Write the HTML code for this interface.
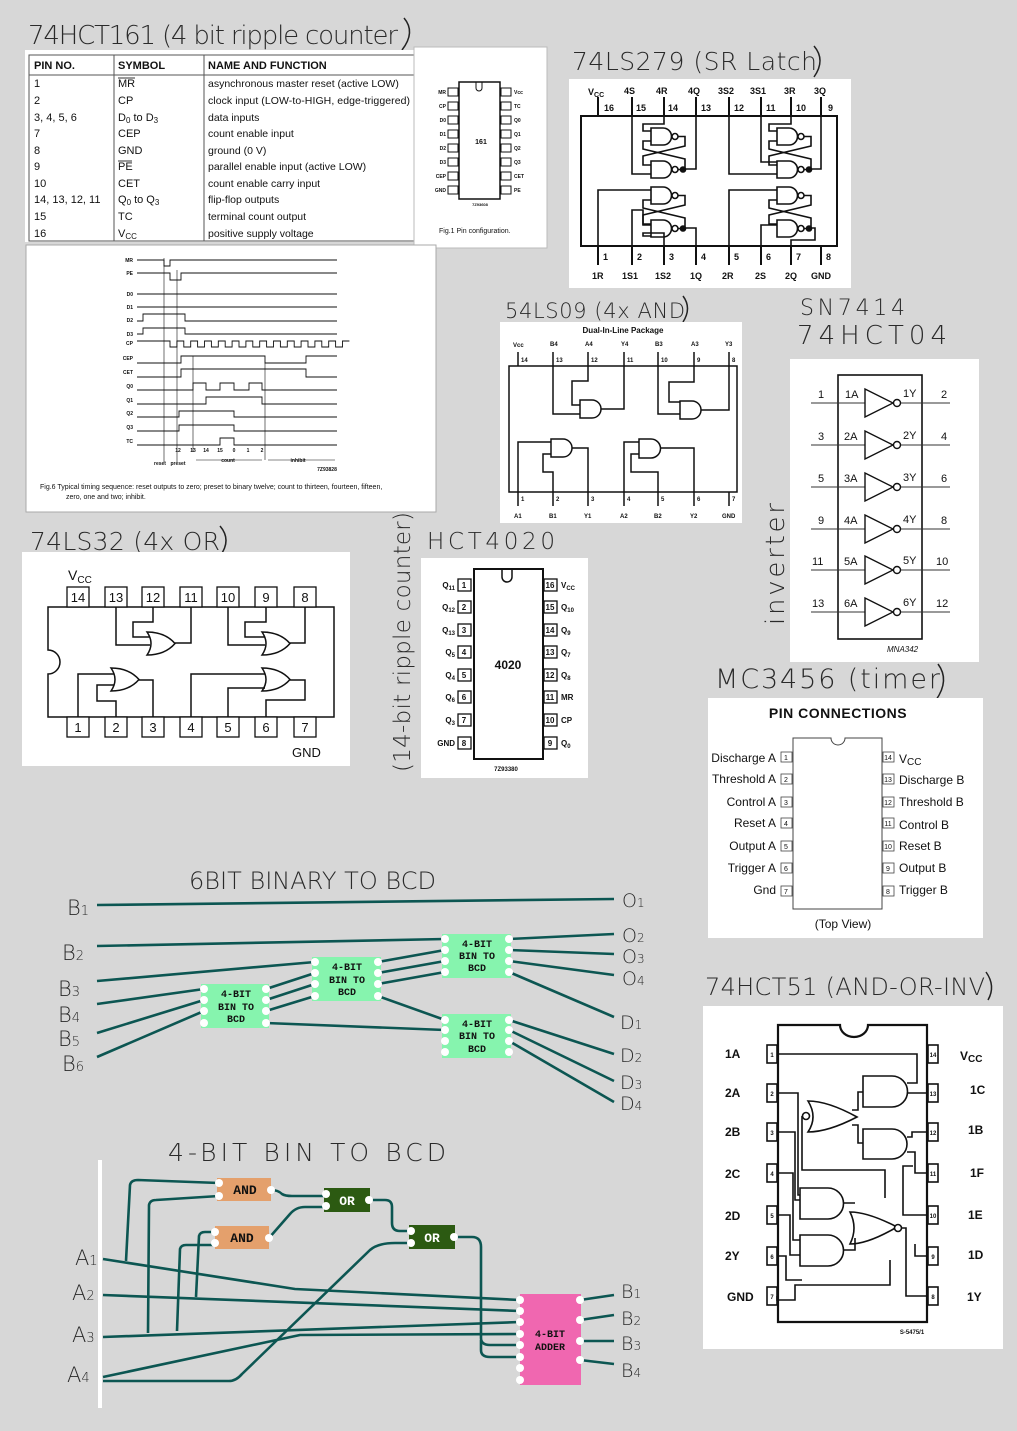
<!DOCTYPE html>
<html><head><meta charset="utf-8"><style>
html,body{margin:0;padding:0;background:#d7d7d7;}
svg{display:block;}
.hw{font-family:"DejaVu Sans","Liberation Sans",sans-serif;font-weight:200;fill:#2a2a2a;}
.t{font-family:"Liberation Sans",Arial,sans-serif;fill:#111;}
.m{font-family:"Liberation Mono","DejaVu Sans Mono",monospace;font-weight:bold;}
.ln{stroke:#111;fill:none;stroke-width:1.5;}
.w{stroke:#0c5652;fill:none;stroke-width:2.6;stroke-linejoin:round;}
.pin{fill:#fff;}
</style></head><body>
<svg width="1017" height="1431" viewBox="0 0 1017 1431" xmlns="http://www.w3.org/2000/svg">
<rect width="1017" height="1431" fill="#d7d7d7"/>

<!-- ===== Handwritten titles ===== -->
<text class="hw" x="28" y="44" font-size="26" textLength="370">74HCT161 (4 bit ripple counter</text>
<path d="M404,18 Q416,32 402,50" stroke="#222" fill="none" stroke-width="1.5"/>
<text class="hw" x="572" y="70" font-size="25" textLength="245">74LS279 (SR Latch</text>
<path d="M814,46 Q826,60 814,77" stroke="#222" fill="none" stroke-width="1.5"/>
<text class="hw" x="505" y="318" font-size="21" textLength="180">54LS09 (4x AND</text>
<path d="M683,296 Q692,308 683,322" stroke="#222" fill="none" stroke-width="1.5"/>
<text class="hw" x="800" y="315" font-size="22" textLength="105">SN7414</text>
<text class="hw" x="797" y="344" font-size="26" textLength="150">74HCT04</text>
<text class="hw" x="30" y="550" font-size="25" textLength="190">74LS32 (4x OR</text>
<path d="M220,526 Q232,540 220,556" stroke="#222" fill="none" stroke-width="1.5"/>
<text class="hw" x="427" y="549" font-size="23" textLength="128">HCT4020</text>
<text class="hw" x="0" y="0" font-size="23" textLength="260" transform="translate(410,772) rotate(-90)">(14-bit ripple counter)</text>
<text class="hw" x="0" y="0" font-size="26" textLength="122" transform="translate(784,625) rotate(-90)">inverter</text>
<text class="hw" x="715" y="688" font-size="27" textLength="225">MC3456 (timer</text>
<path d="M938,664 Q950,680 936,700" stroke="#222" fill="none" stroke-width="1.5"/>
<text class="hw" x="705" y="995" font-size="24" textLength="280">74HCT51 (AND-OR-INV</text>
<path d="M986,972 Q996,986 988,1000" stroke="#222" fill="none" stroke-width="1.5"/>

<!-- ===== 74HCT161 table ===== -->
<rect x="25" y="50" width="390" height="192" fill="#fff"/>
<rect x="29" y="55" width="386" height="186" fill="none" stroke="#555" stroke-width="1"/>
<line x1="29" y1="75" x2="415" y2="75" stroke="#555"/>
<line x1="114" y1="55" x2="114" y2="241" stroke="#555"/>
<line x1="204" y1="55" x2="204" y2="241" stroke="#555"/>
<g class="t" font-size="11">
<text x="34" y="69" font-weight="bold">PIN NO.</text><text x="118" y="69" font-weight="bold">SYMBOL</text><text x="208" y="69" font-weight="bold">NAME AND FUNCTION</text>
<text x="34" y="87">1</text><text x="118" y="87">MR</text><text x="208" y="87" font-size="10.5">asynchronous master reset (active LOW)</text>
<text x="34" y="104">2</text><text x="118" y="104">CP</text><text x="208" y="104" font-size="10.5" textLength="202">clock input (LOW-to-HIGH, edge-triggered)</text>
<text x="34" y="121">3, 4, 5, 6</text><text x="118" y="121">D<tspan font-size="8" dy="2">0</tspan><tspan dy="-2"> to D</tspan><tspan font-size="8" dy="2">3</tspan></text><text x="208" y="121" font-size="10.5">data inputs</text>
<text x="34" y="137">7</text><text x="118" y="137">CEP</text><text x="208" y="137" font-size="10.5">count enable input</text>
<text x="34" y="154">8</text><text x="118" y="154">GND</text><text x="208" y="154" font-size="10.5">ground (0 V)</text>
<text x="34" y="170">9</text><text x="118" y="170">PE</text><text x="208" y="170" font-size="10.5">parallel enable input (active LOW)</text>
<text x="34" y="187">10</text><text x="118" y="187">CET</text><text x="208" y="187" font-size="10.5">count enable carry input</text>
<text x="34" y="203">14, 13, 12, 11</text><text x="118" y="203">Q<tspan font-size="8" dy="2">0</tspan><tspan dy="-2"> to Q</tspan><tspan font-size="8" dy="2">3</tspan></text><text x="208" y="203" font-size="10.5">flip-flop outputs</text>
<text x="34" y="220">15</text><text x="118" y="220">TC</text><text x="208" y="220" font-size="10.5">terminal count output</text>
<text x="34" y="237">16</text><text x="118" y="237">V<tspan font-size="8" dy="2">CC</tspan></text><text x="208" y="237" font-size="10.5">positive supply voltage</text>
</g>
<line x1="118" y1="78" x2="135" y2="78" stroke="#333"/><line x1="118" y1="161" x2="132" y2="161" stroke="#333"/>

<!-- pin config 161 -->
<rect x="414" y="47" width="133" height="201" fill="#fff" stroke="#bbb"/>
<rect x="459" y="82" width="41" height="117" fill="#fff" stroke="#111" stroke-width="1.5"/>
<path d="M476,82 v6 a3,3 0 0 0 6,0 v-6" fill="none" stroke="#111"/>
<g stroke="#111" fill="#fff" stroke-width="1">
<rect x="448" y="88" width="10" height="8"/><rect x="448" y="102" width="10" height="8"/><rect x="448" y="116" width="10" height="8"/><rect x="448" y="130" width="10" height="8"/><rect x="448" y="144" width="10" height="8"/><rect x="448" y="158" width="10" height="8"/><rect x="448" y="172" width="10" height="8"/><rect x="448" y="186" width="10" height="8"/>
<rect x="501" y="88" width="10" height="8"/><rect x="501" y="102" width="10" height="8"/><rect x="501" y="116" width="10" height="8"/><rect x="501" y="130" width="10" height="8"/><rect x="501" y="144" width="10" height="8"/><rect x="501" y="158" width="10" height="8"/><rect x="501" y="172" width="10" height="8"/><rect x="501" y="186" width="10" height="8"/>
</g>
<g class="t" font-size="5" font-weight="bold" text-anchor="end">
<text x="446" y="94">MR</text><text x="446" y="108">CP</text><text x="446" y="122">D0</text><text x="446" y="136">D1</text><text x="446" y="150">D2</text><text x="446" y="164">D3</text><text x="446" y="178">CEP</text><text x="446" y="192">GND</text>
</g>
<g class="t" font-size="5" font-weight="bold">
<text x="514" y="94">Vcc</text><text x="514" y="108">TC</text><text x="514" y="122">Q0</text><text x="514" y="136">Q1</text><text x="514" y="150">Q2</text><text x="514" y="164">Q3</text><text x="514" y="178">CET</text><text x="514" y="192">PE</text>
</g>
<text class="t" x="481" y="144" font-size="7" font-weight="bold" text-anchor="middle">161</text>
<text class="t" x="480" y="206" font-size="4" font-weight="bold" text-anchor="middle">7Z93608</text>
<text class="t" x="439" y="233" font-size="7" fill="#444">Fig.1  Pin configuration.</text>

<!-- timing panel -->
<rect x="26" y="245" width="410" height="267" fill="#fff" stroke="#aaa"/>
<g class="t" font-size="5" font-weight="bold" text-anchor="end">
<text x="133" y="262">MR</text><text x="133" y="275">PE</text><text x="133" y="296">D0</text><text x="133" y="309">D1</text><text x="133" y="322">D2</text><text x="133" y="336">D3</text><text x="133" y="345">CP</text><text x="133" y="360">CEP</text><text x="133" y="374">CET</text><text x="133" y="388">Q0</text><text x="133" y="402">Q1</text><text x="133" y="415">Q2</text><text x="133" y="429">Q3</text><text x="133" y="443">TC</text>
</g>
<g fill="none" stroke="#111" stroke-width="0.9">
<path d="M137,260 H164 V266 H170 V260 H337"/>
<path d="M137,273 H170 V280 H181 V273 H337"/>
<path d="M137,294 H337"/><path d="M137,307 H337"/>
<path d="M137,321 H143 V314 H185 V321 H337"/>
<path d="M137,334 H143 V328 H185 V334 H337"/>
<path d="M137,341 H170 v6 h6.9 v-6 h6.9 v6 h6.9 v-6 h6.9 v6 h6.9 v-6 h6.9 v6 h6.9 v-6 h6.9 v6 h6.9 v-6 h6.9 v6 h6.9 v-6 h6.9 v6 h6.9 v-6 h6.9 v6 h6.9 v-6 h6.9 v6 h6.9 v-6 h6.9 v6 h6.9 v-6 h6.9 v6 h6.9 v-6 h6.9 v6 h6.9 v-6 h6.9 v6 h6.9 v-6 h6.9"/>
<path d="M137,363 H181 V356 H265 V363 H306 V356 H337"/>
<path d="M137,377 H181 V369 H306 V377 H337"/>
<path d="M137,390 H193 V383 H206 V390 H220 V383 H234 V390 H249 V383 H262 V390 H337"/>
<path d="M137,404 H206 V397 H262 V404 H337"/>
<path d="M137,417 H179 V411 H234 V417 H337"/>
<path d="M137,431 H179 V425 H234 V431 H337"/>
<path d="M137,445 H220 V438 H234 V445 H337"/>
<path d="M164,258 V462 M177,270 V462 M193,356 V452 M265,363 V460" stroke-width="0.6"/>
<path d="M196,460 H262 M268,460 H335" stroke-width="0.6"/>
</g>
<g class="t" font-size="5" font-weight="bold" text-anchor="middle">
<text x="178" y="452">12</text><text x="193" y="452">13</text><text x="206" y="452">14</text><text x="220" y="452">15</text><text x="234" y="452">0</text><text x="248" y="452">1</text><text x="262" y="452">2</text>
<text x="160" y="465">reset</text><text x="178" y="465">preset</text><text x="228" y="462">count</text><text x="298" y="462">inhibit</text><text x="327" y="471">7Z93828</text>
</g>
<text class="t" x="40" y="489" font-size="7" fill="#333">Fig.6    Typical timing sequence: reset outputs to zero; preset to binary twelve; count to thirteen, fourteen, fifteen,</text>
<text class="t" x="66" y="499" font-size="7" fill="#333">zero, one and two; inhibit.</text>

<!-- ===== 74LS279 ===== -->
<rect x="569" y="79" width="282" height="209" fill="#fff"/>
<rect x="581" y="116" width="256" height="130" fill="none" stroke="#111" stroke-width="2"/>
<g stroke="#111" stroke-width="2">
<line x1="598" y1="97" x2="598" y2="116"/><line x1="632" y1="97" x2="632" y2="116"/><line x1="664" y1="97" x2="664" y2="116"/><line x1="696" y1="97" x2="696" y2="116"/><line x1="729" y1="97" x2="729" y2="116"/><line x1="761" y1="97" x2="761" y2="116"/><line x1="791" y1="97" x2="791" y2="116"/><line x1="821" y1="97" x2="821" y2="116"/>
<line x1="598" y1="246" x2="598" y2="265"/><line x1="632" y1="246" x2="632" y2="265"/><line x1="664" y1="246" x2="664" y2="265"/><line x1="696" y1="246" x2="696" y2="265"/><line x1="729" y1="246" x2="729" y2="265"/><line x1="761" y1="246" x2="761" y2="265"/><line x1="791" y1="246" x2="791" y2="265"/><line x1="821" y1="246" x2="821" y2="265"/>
</g>
<g class="t" font-size="9" font-weight="bold">
<text x="588" y="95">V<tspan font-size="7" dy="2">CC</tspan></text><text x="624" y="94">4S</text><text x="656" y="94">4R</text><text x="688" y="94">4Q</text><text x="718" y="94">3S2</text><text x="750" y="94">3S1</text><text x="784" y="94">3R</text><text x="814" y="94">3Q</text>
<text x="604" y="111">16</text><text x="636" y="111">15</text><text x="668" y="111">14</text><text x="701" y="111">13</text><text x="734" y="111">12</text><text x="766" y="111">11</text><text x="796" y="111">10</text><text x="828" y="111">9</text>
<text x="603" y="260">1</text><text x="637" y="260">2</text><text x="669" y="260">3</text><text x="701" y="260">4</text><text x="734" y="260">5</text><text x="766" y="260">6</text><text x="796" y="260">7</text><text x="826" y="260">8</text>
<text x="592" y="279">1R</text><text x="622" y="279">1S1</text><text x="655" y="279">1S2</text><text x="690" y="279">1Q</text><text x="722" y="279">2R</text><text x="755" y="279">2S</text><text x="785" y="279">2Q</text><text x="811" y="279">GND</text>
</g>
<defs>
<g id="latch" fill="none" stroke="#111" stroke-width="1.6">
<path d="M0,0 H12 A8.5,8.5 0 0 1 12,17 H0 Z" fill="#fff"/>
<path d="M0,33 H12 A8.5,8.5 0 0 1 12,50 H0 Z" fill="#fff"/>
<circle cx="24" cy="8.5" r="3" fill="#fff"/><circle cx="24" cy="41.5" r="3" fill="#fff"/>
<path d="M27,8.5 H34 V18 L-8,28 V37 H0"/>
<path d="M27,41.5 H34 V31 L-8,21 V13 H0"/>
<circle cx="32" cy="41.5" r="2.5" fill="#111"/>
</g>
</defs>
<use href="#latch" x="651" y="128"/>
<use href="#latch" x="777" y="128"/>
<use href="#latch" x="651" y="187"/>
<use href="#latch" x="777" y="187"/>
<g fill="none" stroke="#111" stroke-width="1.6">
<path d="M664,116 V124 H643 V131 H651"/><path d="M632,116 V174 H651"/><path d="M683,169 H696 V116"/>
<path d="M791,116 V124 H769 V131 H777"/><path d="M761,116 V162 H777 M729,116 V174 H777"/><path d="M809,169 H821 V116"/>
<path d="M598,246 V190 H651"/><path d="M632,246 V210 H643 V225 H651 M664,246 V233 H643 V236 H651"/><path d="M683,228 H696 V246"/>
<path d="M729,246 V190 H777"/><path d="M761,246 V225 H777"/><path d="M809,228 H815 V240 H791 V246"/>
</g>

<!-- ===== 54LS09 ===== -->
<rect x="500" y="322" width="242" height="201" fill="#fff"/>
<text class="t" x="623" y="333" font-size="8" font-weight="bold" text-anchor="middle">Dual-In-Line Package</text>
<rect x="509" y="366" width="228" height="126" fill="none" stroke="#111" stroke-width="1.5"/>
<g stroke="#111" stroke-width="1.5">
<line x1="518" y1="352" x2="518" y2="366"/><line x1="553" y1="352" x2="553" y2="366"/><line x1="588" y1="352" x2="588" y2="366"/><line x1="624" y1="352" x2="624" y2="366"/><line x1="658" y1="352" x2="658" y2="366"/><line x1="694" y1="352" x2="694" y2="366"/><line x1="729" y1="352" x2="729" y2="366"/>
<line x1="518" y1="492" x2="518" y2="506"/><line x1="553" y1="492" x2="553" y2="506"/><line x1="588" y1="492" x2="588" y2="506"/><line x1="624" y1="492" x2="624" y2="506"/><line x1="658" y1="492" x2="658" y2="506"/><line x1="694" y1="492" x2="694" y2="506"/><line x1="729" y1="492" x2="729" y2="506"/>
</g>
<g class="t" font-size="6" font-weight="bold">
<text x="513" y="347">Vcc</text><text x="550" y="346">B4</text><text x="585" y="346">A4</text><text x="621" y="346">Y4</text><text x="655" y="346">B3</text><text x="691" y="346">A3</text><text x="725" y="346">Y3</text>
<text x="521" y="362">14</text><text x="556" y="362">13</text><text x="591" y="362">12</text><text x="627" y="362">11</text><text x="661" y="362">10</text><text x="697" y="362">9</text><text x="732" y="362">8</text>
<text x="521" y="501">1</text><text x="556" y="501">2</text><text x="591" y="501">3</text><text x="627" y="501">4</text><text x="661" y="501">5</text><text x="697" y="501">6</text><text x="732" y="501">7</text>
<text x="514" y="518">A1</text><text x="549" y="518">B1</text><text x="584" y="518">Y1</text><text x="620" y="518">A2</text><text x="654" y="518">B2</text><text x="690" y="518">Y2</text><text x="722" y="518">GND</text>
</g>
<g fill="none" stroke="#111" stroke-width="1.5">
<path d="M580,400 H592 A9,9 0 0 1 592,418 H580 Z"/><path d="M588,366 V381 H572 V405 H580 M553,366 V414 H580 M601,409 H624 V366"/>
<path d="M680,401 H692 A9,9 0 0 1 692,419 H680 Z"/><path d="M694,366 V382 H669 V402 H680 M658,366 V414 H680 M701,410 H729 V366"/>
<path d="M551,439 H563 A9,9 0 0 1 563,457 H551 Z"/><path d="M518,492 V442 H551 M553,492 V472 H543 V454 H551 M572,448 H588 V492"/>
<path d="M639,439 H651 A9,9 0 0 1 651,458 H639 Z"/><path d="M624,492 V442 H639 M658,492 V472 H631 V454 H639 M660,448 H694 V492"/>
</g>

<!-- ===== 74HC04 ===== -->
<rect x="790" y="359" width="189" height="303" fill="#fff"/>
<rect x="838" y="375" width="84" height="264" fill="none" stroke="#111" stroke-width="1.6"/>
<defs>
<g id="inv">
<line x1="811" y1="0" x2="865" y2="0" stroke="#333" stroke-width="1"/>
<line x1="900" y1="0" x2="950" y2="0" stroke="#333" stroke-width="1"/>
<path d="M865,-14 L893,0 L865,14 Z" fill="#fff" stroke="#111" stroke-width="1.4"/>
<circle cx="897" cy="0" r="3.5" fill="#fff" stroke="#111" stroke-width="1.4"/>
</g>
</defs>
<use href="#inv" y="403"/><use href="#inv" y="445"/><use href="#inv" y="487"/><use href="#inv" y="529"/><use href="#inv" y="570"/><use href="#inv" y="612"/>
<g class="t" font-size="11">
<text x="818" y="398">1</text><text x="845" y="398">1A</text><text x="903" y="397">1Y</text><text x="941" y="398">2</text>
<text x="818" y="440">3</text><text x="844" y="440">2A</text><text x="903" y="439">2Y</text><text x="941" y="440">4</text>
<text x="818" y="482">5</text><text x="844" y="482">3A</text><text x="903" y="481">3Y</text><text x="941" y="482">6</text>
<text x="818" y="524">9</text><text x="844" y="524">4A</text><text x="903" y="523">4Y</text><text x="941" y="524">8</text>
<text x="812" y="565">11</text><text x="844" y="565">5A</text><text x="903" y="564">5Y</text><text x="936" y="565">10</text>
<text x="812" y="607">13</text><text x="844" y="607">6A</text><text x="903" y="606">6Y</text><text x="936" y="607">12</text>
</g>
<text class="t" x="887" y="652" font-size="8" font-style="italic" fill="#444">MNA342</text>

<!-- ===== 74LS32 ===== -->
<rect x="22" y="552" width="328" height="214" fill="#fff"/>
<path d="M48,607 H334 V717 H48 V674 A12,12 0 0 0 48,650 Z" fill="none" stroke="#111" stroke-width="1.5"/>
<g fill="#fff" stroke="#111" stroke-width="1.3">
<rect x="67" y="587" width="22" height="20"/><rect x="105" y="587" width="22" height="20"/><rect x="142" y="587" width="22" height="20"/><rect x="180" y="587" width="22" height="20"/><rect x="217" y="587" width="22" height="20"/><rect x="255" y="587" width="22" height="20"/><rect x="294" y="587" width="22" height="20"/>
<rect x="67" y="717" width="22" height="20"/><rect x="105" y="717" width="22" height="20"/><rect x="142" y="717" width="22" height="20"/><rect x="180" y="717" width="22" height="20"/><rect x="217" y="717" width="22" height="20"/><rect x="255" y="717" width="22" height="20"/><rect x="294" y="717" width="22" height="20"/>
</g>
<g class="t" font-size="13" text-anchor="middle">
<text x="78" y="602">14</text><text x="116" y="602">13</text><text x="153" y="602">12</text><text x="191" y="602">11</text><text x="228" y="602">10</text><text x="266" y="602">9</text><text x="305" y="602">8</text>
<text x="78" y="732">1</text><text x="116" y="732">2</text><text x="153" y="732">3</text><text x="191" y="732">4</text><text x="228" y="732">5</text><text x="266" y="732">6</text><text x="305" y="732">7</text>
</g>
<text class="t" x="68" y="580" font-size="14">V<tspan font-size="10" dy="3">CC</tspan></text>
<text class="t" x="292" y="757" font-size="13">GND</text>
<defs><path id="org" d="M0,0 Q8,11.5 0,23 Q18,23 28,11.5 Q18,0 0,0 Z" fill="#fff" stroke="#111" stroke-width="1.5"/></defs>
<use href="#org" x="147" y="632"/><use href="#org" x="262" y="632"/><use href="#org" x="111" y="668"/><use href="#org" x="262" y="668"/>
<g fill="none" stroke="#111" stroke-width="1.5">
<path d="M116,607 V645 H150 M153,607 V622 H133 V637 H150 M175,643 H191 V607"/>
<path d="M228,607 V645 H265 M266,607 V622 H245 V637 H265 M290,643 H305 V607"/>
<path d="M78,717 V674 H114 M116,717 V701 H97 V685 H114 M139,680 H153 V717"/>
<path d="M191,717 V674 H265 M228,717 V688 H265 M290,680 H305 V700 H266 V717"/>
</g>

<!-- ===== HCT4020 ===== -->
<rect x="421" y="558" width="167" height="220" fill="#fff"/>
<rect x="474" y="569" width="69" height="190" fill="none" stroke="#111" stroke-width="2"/>
<path d="M502,569 v8 a5,5 0 0 0 10,0 v-8" fill="none" stroke="#111" stroke-width="1.5"/>
<g fill="#fff" stroke="#111" stroke-width="1.3">
<rect x="458" y="579" width="13" height="12"/><rect x="458" y="601" width="13" height="12"/><rect x="458" y="624" width="13" height="12"/><rect x="458" y="646" width="13" height="12"/><rect x="458" y="669" width="13" height="12"/><rect x="458" y="691" width="13" height="12"/><rect x="458" y="714" width="13" height="12"/><rect x="458" y="737" width="13" height="12"/>
<rect x="544" y="579" width="13" height="12"/><rect x="544" y="601" width="13" height="12"/><rect x="544" y="624" width="13" height="12"/><rect x="544" y="646" width="13" height="12"/><rect x="544" y="669" width="13" height="12"/><rect x="544" y="691" width="13" height="12"/><rect x="544" y="714" width="13" height="12"/><rect x="544" y="737" width="13" height="12"/>
</g>
<g class="t" font-size="8" font-weight="bold" text-anchor="middle">
<text x="464" y="588">1</text><text x="464" y="610">2</text><text x="464" y="633">3</text><text x="464" y="655">4</text><text x="464" y="678">5</text><text x="464" y="700">6</text><text x="464" y="723">7</text><text x="464" y="746">8</text>
<text x="550" y="588">16</text><text x="550" y="610">15</text><text x="550" y="633">14</text><text x="550" y="655">13</text><text x="550" y="678">12</text><text x="550" y="700">11</text><text x="550" y="723">10</text><text x="550" y="746">9</text>
</g>
<g class="t" font-size="8" font-weight="bold" text-anchor="end">
<text x="455" y="588">Q<tspan font-size="6" dy="2">11</tspan></text><text x="455" y="610">Q<tspan font-size="6" dy="2">12</tspan></text><text x="455" y="633">Q<tspan font-size="6" dy="2">13</tspan></text><text x="455" y="655">Q<tspan font-size="6" dy="2">5</tspan></text><text x="455" y="678">Q<tspan font-size="6" dy="2">4</tspan></text><text x="455" y="700">Q<tspan font-size="6" dy="2">6</tspan></text><text x="455" y="723">Q<tspan font-size="6" dy="2">3</tspan></text><text x="455" y="746">GND</text>
</g>
<g class="t" font-size="8" font-weight="bold">
<text x="561" y="588">V<tspan font-size="6" dy="2">CC</tspan></text><text x="561" y="610">Q<tspan font-size="6" dy="2">10</tspan></text><text x="561" y="633">Q<tspan font-size="6" dy="2">9</tspan></text><text x="561" y="655">Q<tspan font-size="6" dy="2">7</tspan></text><text x="561" y="678">Q<tspan font-size="6" dy="2">8</tspan></text><text x="561" y="700">MR</text><text x="561" y="723">CP</text><text x="561" y="746">Q<tspan font-size="6" dy="2">0</tspan></text>
</g>
<text class="t" x="508" y="669" font-size="12" font-weight="bold" text-anchor="middle">4020</text>
<text class="t" x="506" y="771" font-size="6" font-weight="bold" text-anchor="middle">7Z93380</text>

<!-- ===== MC3456 ===== -->
<rect x="708" y="698" width="275" height="240" fill="#fff"/>
<text class="t" x="838" y="718" font-size="14" font-weight="bold" text-anchor="middle" letter-spacing="0.5">PIN CONNECTIONS</text>
<path d="M793,738 H831 A7,7 0 0 0 845,738 H882 V909 H793 Z" fill="none" stroke="#444" stroke-width="1"/>
<g fill="#fff" stroke="#444" stroke-width="0.8">
<rect x="781" y="752" width="11" height="10"/><rect x="781" y="774" width="11" height="10"/><rect x="781" y="797" width="11" height="10"/><rect x="781" y="818" width="11" height="10"/><rect x="781" y="841" width="11" height="10"/><rect x="781" y="863" width="11" height="10"/><rect x="781" y="886" width="11" height="10"/>
<rect x="883" y="752" width="11" height="10"/><rect x="883" y="774" width="11" height="10"/><rect x="883" y="797" width="11" height="10"/><rect x="883" y="818" width="11" height="10"/><rect x="883" y="841" width="11" height="10"/><rect x="883" y="863" width="11" height="10"/><rect x="883" y="886" width="11" height="10"/>
</g>
<g class="t" font-size="7" text-anchor="middle">
<text x="786" y="760">1</text><text x="786" y="782">2</text><text x="786" y="805">3</text><text x="786" y="826">4</text><text x="786" y="849">5</text><text x="786" y="871">6</text><text x="786" y="894">7</text>
<text x="888" y="760">14</text><text x="888" y="782">13</text><text x="888" y="805">12</text><text x="888" y="826">11</text><text x="888" y="849">10</text><text x="888" y="871">9</text><text x="888" y="894">8</text>
</g>
<g class="t" font-size="12" text-anchor="end">
<text x="776" y="762">Discharge A</text><text x="776" y="783">Threshold A</text><text x="776" y="806">Control A</text><text x="776" y="827">Reset A</text><text x="776" y="850">Output A</text><text x="776" y="872">Trigger A</text><text x="776" y="894">Gnd</text>
</g>
<g class="t" font-size="12">
<text x="899" y="763">V<tspan font-size="10" dy="2">CC</tspan></text><text x="899" y="784">Discharge B</text><text x="899" y="806">Threshold B</text><text x="899" y="829">Control B</text><text x="899" y="850">Reset B</text><text x="899" y="872">Output B</text><text x="899" y="894">Trigger B</text>
</g>
<text class="t" x="843" y="928" font-size="12" text-anchor="middle">(Top View)</text>

<!-- ===== 74HCT51 ===== -->
<rect x="703" y="1006" width="300" height="343" fill="#fff"/>
<path d="M778,1025 H840 A14,12 0 0 0 868,1025 H927 V1322 H778 Z" fill="none" stroke="#111" stroke-width="2.2"/>
<g fill="#fff" stroke="#111" stroke-width="1.6">
<rect x="767" y="1045" width="10" height="18"/><rect x="767" y="1084" width="10" height="18"/><rect x="767" y="1123" width="10" height="18"/><rect x="767" y="1164" width="10" height="18"/><rect x="767" y="1206" width="10" height="18"/><rect x="767" y="1247" width="10" height="18"/><rect x="767" y="1287" width="10" height="18"/>
<rect x="928" y="1045" width="10" height="18"/><rect x="928" y="1084" width="10" height="18"/><rect x="928" y="1123" width="10" height="18"/><rect x="928" y="1164" width="10" height="18"/><rect x="928" y="1206" width="10" height="18"/><rect x="928" y="1247" width="10" height="18"/><rect x="928" y="1287" width="10" height="18"/>
</g>
<g class="t" font-size="6" font-weight="bold" text-anchor="middle">
<text x="772" y="1057">1</text><text x="772" y="1096">2</text><text x="772" y="1135">3</text><text x="772" y="1176">4</text><text x="772" y="1218">5</text><text x="772" y="1259">6</text><text x="772" y="1299">7</text>
<text x="933" y="1057">14</text><text x="933" y="1096">13</text><text x="933" y="1135">12</text><text x="933" y="1176">11</text><text x="933" y="1218">10</text><text x="933" y="1259">9</text><text x="933" y="1299">8</text>
</g>
<g class="t" font-size="12" font-weight="bold" fill="#222">
<text x="725" y="1058">1A</text><text x="725" y="1097">2A</text><text x="725" y="1136">2B</text><text x="725" y="1178">2C</text><text x="725" y="1220">2D</text><text x="725" y="1260">2Y</text><text x="727" y="1301">GND</text>
<text x="960" y="1060">V<tspan font-size="10" dy="2">CC</tspan></text><text x="970" y="1094">1C</text><text x="968" y="1134">1B</text><text x="970" y="1177">1F</text><text x="968" y="1219">1E</text><text x="968" y="1259">1D</text><text x="967" y="1301">1Y</text>
</g>
<g fill="none" stroke="#111" stroke-width="1.6">
<path d="M863,1076 H892 A15.5,15.5 0 0 1 892,1107 H863 Z" fill="#fff"/>
<path d="M863,1129 H892 A15,15 0 0 1 892,1159 H863 Z" fill="#fff"/>
<path d="M808,1101 Q828,1101 857,1117 Q828,1132 808,1132 Q818,1117 808,1101 Z" fill="#fff"/>
<circle cx="806" cy="1116" r="3.5" fill="#fff"/>
<path d="M800,1188 H828 A15.5,15.5 0 0 1 828,1219 H800 Z" fill="#fff"/>
<path d="M800,1235 H828 A15.5,15.5 0 0 1 828,1266 H800 Z" fill="#fff"/>
<path d="M850,1212 Q868,1212 897,1227 Q868,1244 850,1244 Q858,1228 850,1212 Z" fill="#fff"/>
<circle cx="898" cy="1228" r="3.5" fill="#fff"/>
<path d="M777,1054 H917 V1083 H907 M777,1093 H798 V1195 H800 M777,1132 H795 V1200 H800 M777,1173 H793 V1240 H800 M777,1215 H790 V1255 H800"/>
<path d="M928,1093 H907 M928,1132 H912 V1137 H907 M928,1173 H915 V1152 H907 M928,1215 H903 V1166 H913"/>
<path d="M863,1092 H858 V1110 H852 M863,1143 H858 V1125 H852 M802,1116 V1170 H885 V1198 M843,1203 H855 M843,1250 H855 V1238"/>
<path d="M777,1256 H786 V1280 H802 M777,1296 V1300 H795 V1285 H890 V1260 M901,1228 H906 V1296 H928 M928,1256 H915 V1244"/>
</g>
<text class="t" x="912" y="1334" font-size="6" font-weight="bold" text-anchor="middle">S-5475/1</text>

<!-- ===== 6BIT BINARY TO BCD ===== -->
<text class="hw" x="189" y="889" font-size="24" textLength="247">6BIT BINARY TO BCD</text>
<g class="w">
<path d="M97,905 L614,899"/>
<path d="M97,946 L445,939"/>
<path d="M97,981 L315,962"/>
<path d="M97,1004 L204,989 M97,1033 L204,1000 M97,1057 L204,1011"/>
<path d="M266,989 L315,973 M266,1000 L315,984 M266,1011 L315,996 M266,1023 L445,1030"/>
<path d="M378,962 L445,950 M378,973 L445,961 M378,984 L445,972 M378,996 L445,1020"/>
<path d="M509,939 L614,934 M509,950 L614,954 M509,961 L614,975 M509,972 L614,1017"/>
<path d="M509,1020 L614,1054 M509,1030 L614,1081 M509,1041 L614,1102"/>
</g>
<g fill="#86f4ae">
<rect x="442" y="934" width="69" height="44"/><rect x="312" y="957" width="69" height="44"/><rect x="201" y="984" width="68" height="44"/><rect x="442" y="1014" width="69" height="44"/>
</g>
<g class="pin">
<circle cx="445" cy="939" r="4"/><circle cx="445" cy="950" r="4"/><circle cx="445" cy="961" r="4"/><circle cx="445" cy="972" r="4"/>
<circle cx="509" cy="939" r="4"/><circle cx="509" cy="950" r="4"/><circle cx="509" cy="961" r="4"/><circle cx="509" cy="972" r="4"/>
<circle cx="315" cy="962" r="4"/><circle cx="315" cy="973" r="4"/><circle cx="315" cy="984" r="4"/><circle cx="315" cy="996" r="4"/>
<circle cx="378" cy="962" r="4"/><circle cx="378" cy="973" r="4"/><circle cx="378" cy="984" r="4"/><circle cx="378" cy="996" r="4"/>
<circle cx="204" cy="989" r="4"/><circle cx="204" cy="1000" r="4"/><circle cx="204" cy="1011" r="4"/><circle cx="204" cy="1023" r="4"/>
<circle cx="266" cy="989" r="4"/><circle cx="266" cy="1000" r="4"/><circle cx="266" cy="1011" r="4"/><circle cx="266" cy="1023" r="4"/>
<circle cx="445" cy="1020" r="4"/><circle cx="445" cy="1030" r="4"/><circle cx="445" cy="1041" r="4"/><circle cx="445" cy="1052" r="4"/>
<circle cx="509" cy="1020" r="4"/><circle cx="509" cy="1030" r="4"/><circle cx="509" cy="1041" r="4"/><circle cx="509" cy="1052" r="4"/>
</g>
<g class="m" font-size="10" fill="#111" text-anchor="middle">
<text x="477" y="947">4-BIT</text><text x="477" y="959">BIN TO</text><text x="477" y="971">BCD</text>
<text x="347" y="970">4-BIT</text><text x="347" y="983">BIN TO</text><text x="347" y="995">BCD</text>
<text x="236" y="997">4-BIT</text><text x="236" y="1010">BIN TO</text><text x="236" y="1022">BCD</text>
<text x="477" y="1027">4-BIT</text><text x="477" y="1039">BIN TO</text><text x="477" y="1052">BCD</text>
</g>
<g class="hw" font-size="21">
<text x="67" y="915">B<tspan font-size="13">1</tspan></text><text x="62" y="960">B<tspan font-size="13">2</tspan></text><text x="58" y="996">B<tspan font-size="13">3</tspan></text><text x="58" y="1022">B<tspan font-size="13">4</tspan></text><text x="58" y="1046">B<tspan font-size="13">5</tspan></text><text x="62" y="1071">B<tspan font-size="13">6</tspan></text>
<text x="622" y="907" font-size="19">O<tspan font-size="12">1</tspan></text><text x="622" y="942" font-size="19">O<tspan font-size="12">2</tspan></text><text x="622" y="963" font-size="19">O<tspan font-size="12">3</tspan></text><text x="622" y="985" font-size="19">O<tspan font-size="12">4</tspan></text>
<text x="620" y="1029" font-size="19">D<tspan font-size="12">1</tspan></text><text x="620" y="1062" font-size="19">D<tspan font-size="12">2</tspan></text><text x="620" y="1089" font-size="19">D<tspan font-size="12">3</tspan></text><text x="620" y="1110" font-size="19">D<tspan font-size="12">4</tspan></text>
</g>

<!-- ===== 4-BIT BIN TO BCD ===== -->
<text class="hw" x="168" y="1161" font-size="25" textLength="278">4-BIT BIN TO BCD</text>
<rect x="98" y="1160" width="4" height="248" fill="#fff"/>
<g class="w">
<path d="M103,1259 L295,1289 L520,1300"/>
<path d="M103,1295 L520,1311"/>
<path d="M103,1337 L520,1322"/>
<path d="M103,1377 L300,1335 L520,1334"/>
<path d="M103,1381 H229 Q236,1381 242,1374 L370,1250 Q378,1243 395,1243 H410"/>
<path d="M126,1261 L130,1185 Q131,1180 138,1180 L219,1183"/>
<path d="M148,1333 L149,1205 Q150,1200 156,1200 L219,1196"/>
<path d="M196,1297 L199,1236 Q200,1232 205,1232 H215"/>
<path d="M177,1331 L180,1249 Q181,1245 186,1245 H215"/>
<path d="M271,1190 Q278,1190 282,1194 Q285,1196 292,1196 H324"/>
<path d="M269,1238 L290,1214 Q296,1207 305,1207 H324"/>
<path d="M370,1200 H385 Q392,1200 392,1207 V1223 Q392,1231 400,1231 H409"/>
<path d="M455,1237 H472 Q481,1237 481,1247 V1338 Q481,1345 490,1345 H520 M481,1340 V1350 Q481,1357 490,1357 H520"/>
<path d="M580,1300 L614,1295 M580,1320 L614,1315 M580,1341 L614,1341 M580,1360 L614,1364"/>
</g>
<rect x="217" y="1178" width="54" height="23" fill="#e4a06c"/>
<rect x="215" y="1226" width="54" height="23" fill="#e4a06c"/>
<rect x="324" y="1188" width="46" height="24" fill="#2c5a12"/>
<rect x="409" y="1225" width="46" height="24" fill="#2c5a12"/>
<rect x="520" y="1294" width="61" height="91" fill="#f067b0"/>
<g class="pin">
<circle cx="219" cy="1183" r="4"/><circle cx="219" cy="1196" r="4"/><circle cx="271" cy="1190" r="4"/>
<circle cx="215" cy="1232" r="4"/><circle cx="215" cy="1243" r="4"/><circle cx="269" cy="1238" r="4"/>
<circle cx="326" cy="1194" r="4"/><circle cx="326" cy="1206" r="4"/><circle cx="369" cy="1200" r="4"/>
<circle cx="411" cy="1231" r="4"/><circle cx="411" cy="1243" r="4"/><circle cx="454" cy="1237" r="4"/>
<circle cx="520" cy="1300" r="4"/><circle cx="520" cy="1311" r="4"/><circle cx="520" cy="1322" r="4"/><circle cx="520" cy="1334" r="4"/><circle cx="520" cy="1345" r="4"/><circle cx="520" cy="1357" r="4"/><circle cx="520" cy="1368" r="4"/><circle cx="520" cy="1380" r="4"/>
<circle cx="580" cy="1300" r="4"/><circle cx="580" cy="1320" r="4"/><circle cx="580" cy="1341" r="4"/><circle cx="580" cy="1360" r="4"/>
</g>
<g class="m" font-size="13" text-anchor="middle">
<text x="245" y="1194" fill="#111">AND</text><text x="242" y="1242" fill="#111">AND</text>
<text x="347" y="1205" fill="#fff">OR</text><text x="432" y="1242" fill="#fff">OR</text>
</g>
<g class="m" font-size="10" text-anchor="middle" fill="#111"><text x="550" y="1337">4-BIT</text><text x="550" y="1350">ADDER</text></g>
<g class="hw" font-size="21">
<text x="75" y="1265">A<tspan font-size="13">1</tspan></text><text x="72" y="1300">A<tspan font-size="13">2</tspan></text><text x="72" y="1342">A<tspan font-size="13">3</tspan></text><text x="67" y="1382">A<tspan font-size="13">4</tspan></text>
<text x="621" y="1298" font-size="19">B<tspan font-size="12">1</tspan></text><text x="621" y="1325" font-size="19">B<tspan font-size="12">2</tspan></text><text x="621" y="1350" font-size="19">B<tspan font-size="12">3</tspan></text><text x="621" y="1377" font-size="19">B<tspan font-size="12">4</tspan></text>
</g>
</svg>
</body></html>
